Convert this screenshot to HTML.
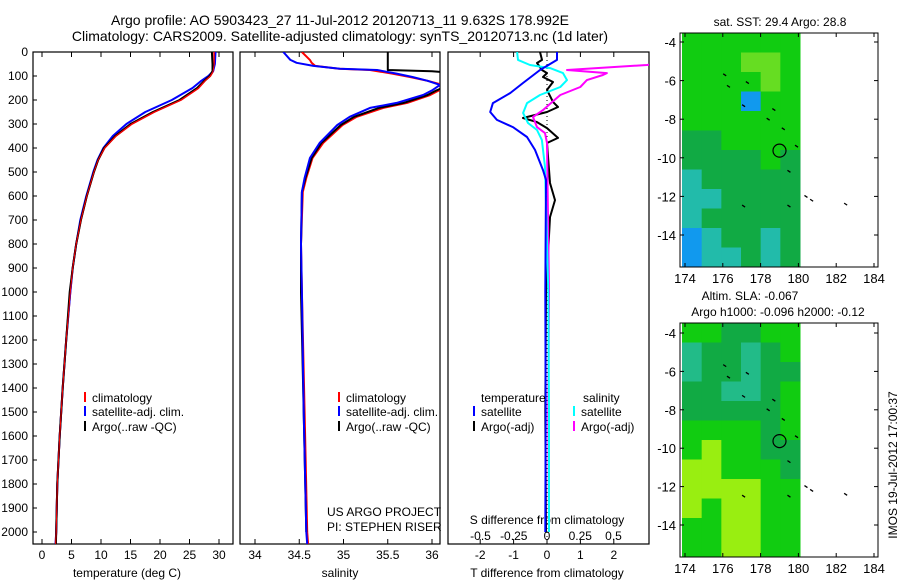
<!DOCTYPE html>
<html><head><meta charset="utf-8"><style>
body{margin:0;background:#fff;}
svg{display:block;font-family:"Liberation Sans",sans-serif;}
text{fill:#000;}
</style></head><body>
<svg id="c" width="900" height="580" viewBox="0 0 900 580">
<text x="340" y="25" font-size="14" text-anchor="middle">Argo profile: AO 5903423_27 11-Jul-2012 20120713_11 9.632S 178.992E</text>
<text x="340" y="41" font-size="14" text-anchor="middle">Climatology: CARS2009. Satellite-adjusted climatology: synTS_20120713.nc (1d later)</text>
<text x="127" y="577" font-size="12" text-anchor="middle">temperature (deg C)</text>
<text x="340" y="577" font-size="12" text-anchor="middle">salinity</text>
<text x="547" y="577" font-size="12" text-anchor="middle">T difference from climatology</text>
<text x="547" y="524" font-size="12" text-anchor="middle">S difference from climatology</text>
<text x="327" y="516" font-size="12">US ARGO PROJECT</text>
<text x="327" y="531" font-size="12">PI: STEPHEN RISER</text>
<text x="780" y="26" font-size="12" text-anchor="middle">sat. SST: 29.4 Argo: 28.8</text>
<text x="750" y="300" font-size="12" text-anchor="middle">Altim. SLA: -0.067</text>
<text x="778" y="316" font-size="12" text-anchor="middle">Argo h1000: -0.096 h2000: -0.12</text>
<text transform="translate(897,465) rotate(-90)" font-size="12" text-anchor="middle">IMOS 19-Jul-2012 17:00:37</text>
</svg>
<script>
// ---- data ----
var tDepths=[0,50,80,100,120,150,200,250,300,350,400,450,500,600,700,800,900,1000,1200,1400,1600,1800,2000,2050];
var tClim=[29.2,29.2,29.0,28.5,27.6,26.5,23.5,19,15.2,12.5,10.6,9.5,8.8,7.6,6.6,5.8,5.2,4.8,4.1,3.5,3.0,2.6,2.4,2.3];
var tSat=[29.4,29.3,29.0,28.2,27.0,25.5,22,17.5,14.3,12.0,10.4,9.4,8.7,7.5,6.5,5.8,5.2,4.8,4.1,3.5,3.0,2.6,2.4,2.3];
var tArgo=[28.8,28.9,28.9,28.4,27.5,26.3,23.3,18.8,15.0,12.4,10.5,9.5,8.8,7.6,6.6,5.8,5.2,4.7,4.1,3.5,3.0,2.6,2.4,2.35];
var sDepths=[0,33,45,58,70,75,90,104,120,137,160,179,212,233,270,304,379,442,525,583,800,1000,1500,2000,2050];
var sSat=[34.32,34.4,34.47,34.66,34.96,35.38,35.6,35.78,35.95,36.09,36.0,35.9,35.6,35.3,35.07,34.93,34.73,34.62,34.56,34.53,34.52,34.53,34.55,34.58,34.59];
var sClim=[34.53,34.62,34.64,34.68,34.95,35.3,35.55,35.75,35.95,36.12,36.08,35.98,35.72,35.45,35.15,34.99,34.77,34.65,34.58,34.54,34.52,34.53,34.56,34.59,34.6];
var sArgoDepths=[0,75,80,90,110,137,160,179,212,233,270,304,379,442,525,583,800,1000,1500,2000];
var sArgo=[35.5,35.5,36.0,36.3,36.3,36.2,36.05,35.95,35.68,35.4,35.12,34.97,34.75,34.64,34.57,34.53,34.52,34.52,34.55,34.58];
var dTSatDepths=[0,33,75,129,171,213,250,283,313,354,408,492,533,1000,1500,2000];
var dTSat=[0.3,0.3,-0.21,-0.72,-1.1,-1.62,-1.7,-1.5,-1.02,-0.6,-0.36,-0.12,-0.03,-0.05,-0.04,-0.05];
var dSSatDepths=[0,33,54,67,88,117,146,179,213,254,296,325,367,479,1000,1500,2000];
var dSSat=[-0.225,-0.218,-0.128,0.023,0.12,0.15,0.1,-0.053,-0.15,-0.18,-0.143,-0.075,-0.038,-0.015,0.01,0.015,0.015];
var dSArgoDepths=[45,54,75,88,96,117,146,179,208,242,271,313,338,379,1000,1500,2000];
var dSArgo=[0.9,0.75,0.15,0.45,0.42,0.3,0.25,0.1,0.04,-0.03,-0.105,-0.075,-0.015,0,0.015,0.01,0.015];
var dTArgoDepths=[0,33,46,75,88,104,125,158,208,229,250,275,292,317,358,379,546,617,688,1000,1500,2000];
var dTArgo=[-0.21,-0.15,-0.3,-0.15,0,-0.12,0.18,0,0.18,0.33,0,-0.72,-0.3,0,0.33,0,0.09,0.24,0.09,-0.03,-0.05,-0.03];
var tTicks=[0,5,10,15,20,25,30];
var sTicks=["34","34.5","35","35.5","36"];
var dTTicks=["-2","-1","0","1","2"];
var dSTicks=["-0.5","-0.25","0","0.25","0.5"];
var depthTicks=[0,100,200,300,400,500,600,700,800,900,1000,1100,1200,1300,1400,1500,1600,1700,1800,1900,2000];
var lonTicks=[174,176,178,180,182,184];
var latTicks=[-4,-6,-8,-10,-12,-14];
var sstGrid=["GGGGGG","GGGLLG","GGGGLG","GGGBGG","GGGGGG","DDGGGG","DDDDGD","CDDDDD","CCDDDD","CDDDDD","BCDDCD","BCCDCD"];
var slaGrid=["GGDDGG","TDDTDG","TDDTDD","DDTTDG","DDDDDG","GGGGDG","GYGGDD","YYGGGD","YYYYGG","YGYYGG","GGYYGG","GGYYGG"];
var floatLon=[176.1,176.3,177.3,177.1,178.7,178.4,179.2,179.9,179.5,180.4,180.7,182.5,177.1,179.5];
var floatLat=[-5.7,-6.3,-6.1,-7.3,-7.5,-8.0,-8.5,-9.4,-10.7,-12.0,-12.2,-12.4,-12.5,-12.5];
// ---- scales ----
var NS="http://www.w3.org/2000/svg",svg=document.getElementById('c');
function y(d){return 52+d*0.24;}
function xT(t){return 42+t*5.9;}
function xS(s){return 255+(s-34)*88.5;}
function xdT(t){return 547+t*33.4;}
function xdS(s){return 547+s*133;}
function lonX(l){return 685+(l-174)*18.9;}
function latY1(a){return 42+(-4-a)*19.3;}
function latY2(a){return 333+(-4-a)*19.2;}
function mk(tag,at,parent){var e=document.createElementNS(NS,tag);for(var k in at)e.setAttribute(k,at[k]);(parent||svg).appendChild(e);return e;}
var defs=mk('defs',{});
[[1,33,52,200,492],[2,240,52,200,492],[3,448,52,201,493]].forEach(function(p){var cp=mk('clipPath',{id:'cp'+p[0]},defs);mk('rect',{x:p[1],y:p[2],width:p[3],height:p[4]},cp);});
function line(xs,ys,fx,color,clip){var pts=[];for(var i=0;i<xs.length;i++)pts.push(fx(xs[i]).toFixed(1)+','+y(ys[i]).toFixed(1));
 return mk('polyline',{points:pts.join(' '),fill:'none',stroke:color,'stroke-width':2,'stroke-linejoin':'round','clip-path':'url(#cp'+clip+')'});}
function txt(x,yy,s,anchor,size){var t=mk('text',{x:x,y:yy,'font-size':size||12,'text-anchor':anchor||'middle'});t.textContent=s;return t;}
// ---- maps ----
var colMap={G:'#11cc11',L:'#66dd22',D:'#11aa44',B:'#1199ee',C:'#22bbaa',T:'#22bb88',Y:'#99ee11'};
function drawMap(grid,top,fy,name){
 var g=mk('g',{});
 
 
 var cw=118/6,ch=234/12;
 for(var r=0;r<grid.length;r++)for(var c=0;c<6;c++){var cell=mk('rect',{x:682+c*cw,y:top+r*ch,width:cw+0.5,height:ch+0.5,fill:colMap[grid[r][c]]},g);
  
  }
 var fr=mk('rect',{x:680,y:top,width:198,height:234,fill:'none',stroke:'#000','stroke-width':1});
 
 
 lonTicks.forEach(function(l){var x=lonX(l);mk('line',{x1:x,x2:x,y1:top,y2:top+4,stroke:'#000'});mk('line',{x1:x,x2:x,y1:top+234,y2:top+230,stroke:'#000'});
  var t=txt(x,top+250,String(l),'middle',13);});
 latTicks.forEach(function(a){var yy=fy(a);mk('line',{x1:680,x2:684,y1:yy,y2:yy,stroke:'#000'});mk('line',{x1:878,x2:874,y1:yy,y2:yy,stroke:'#000'});
  var t=txt(676,yy+5,String(a),'end',13);});
 for(var i=0;i<floatLon.length;i++){var m=mk('line',{x1:lonX(floatLon[i])-1.5,x2:lonX(floatLon[i])+1.5,y1:fy(floatLat[i])-1,y2:fy(floatLat[i])+1,stroke:'#000','stroke-width':1.3});
  }
 var ci=mk('circle',{cx:lonX(179),cy:fy(-9.63),r:6.5,fill:'none',stroke:'#000','stroke-width':1.2});
 
 
}
drawMap(sstGrid,33,latY1,'sst-map');
drawMap(slaGrid,323,latY2,'sla-map');
// ---- profile panels ----
var panels=[[33,200,'temperature-panel'],[240,200,'salinity-panel'],[448,201,'difference-panel']];
panels.forEach(function(p){var r=mk('rect',{x:p[0],y:52,width:p[1],height:492,fill:'none',stroke:'#000','stroke-width':1.2});
 });
depthTicks.forEach(function(d){var t=txt(28,y(d)+4,String(d),'end',12);
 mk('line',{x1:33,x2:37,y1:y(d),y2:y(d),stroke:'#000'});});
function xticks(vals,fx,labY){vals.forEach(function(v){var x=fx(+v);mk('line',{x1:x,x2:x,y1:52,y2:57,stroke:'#000'});mk('line',{x1:x,x2:x,y1:544,y2:539,stroke:'#000'});
 if(labY){var t=txt(x,labY,String(v),'middle',12);}});}
xticks(tTicks,xT,559);xticks(sTicks,xS,559);xticks(dTTicks,xdT,559);
dSTicks.forEach(function(v){var t=txt(xdS(+v),540,v,'middle',12);});
var zl=mk('line',{x1:547,x2:547,y1:52,y2:544,stroke:'#000','stroke-dasharray':'1,3'});

var L;
L=line(tClim,tDepths,xT,'#f00',1);
L=line(tSat,tDepths,xT,'#00f',1);
L=line(tArgo,tDepths.slice(0,tArgo.length),xT,'#000',1);
L=line(tClim,tDepths,xT,'#f00',1);L.setAttribute('stroke-width',1);
L=line(sClim,sDepths,xS,'#f00',2);
L=line(sArgo,sArgoDepths,xS,'#000',2);
L=line(sSat,sDepths,xS,'#00f',2);
L=line(dTArgo,dTArgoDepths,xdT,'#000',3);
L=line(dSArgo,dSArgoDepths,xdS,'#f0f',3);
L=line(dSSat,dSSatDepths,xdS,'#0ff',3);
L=line(dTSat,dTSatDepths,xdT,'#00f',3);
// ---- legends ----
function leg(x,yy,color,label){mk('line',{x1:x,x2:x,y1:yy-10,y2:yy,stroke:color,'stroke-width':2});var t=txt(x+7,yy,label,'start',12);
 }
leg(85,402,'#f00','climatology');leg(85,416,'#00f','satellite-adj. clim.');leg(85,431,'#000','Argo(..raw -QC)');
leg(339,402,'#f00','climatology');leg(339,416,'#00f','satellite-adj. clim.');leg(339,431,'#000','Argo(..raw -QC)');
var t1=txt(481,402,'temperature','start',12);
var t2=txt(583,402,'salinity','start',12);
leg(474,416,'#00f','satellite');leg(474,431,'#000','Argo(-adj)');leg(574,416,'#0ff','satellite');leg(574,431,'#f0f','Argo(-adj)');
</script>
</body></html>
